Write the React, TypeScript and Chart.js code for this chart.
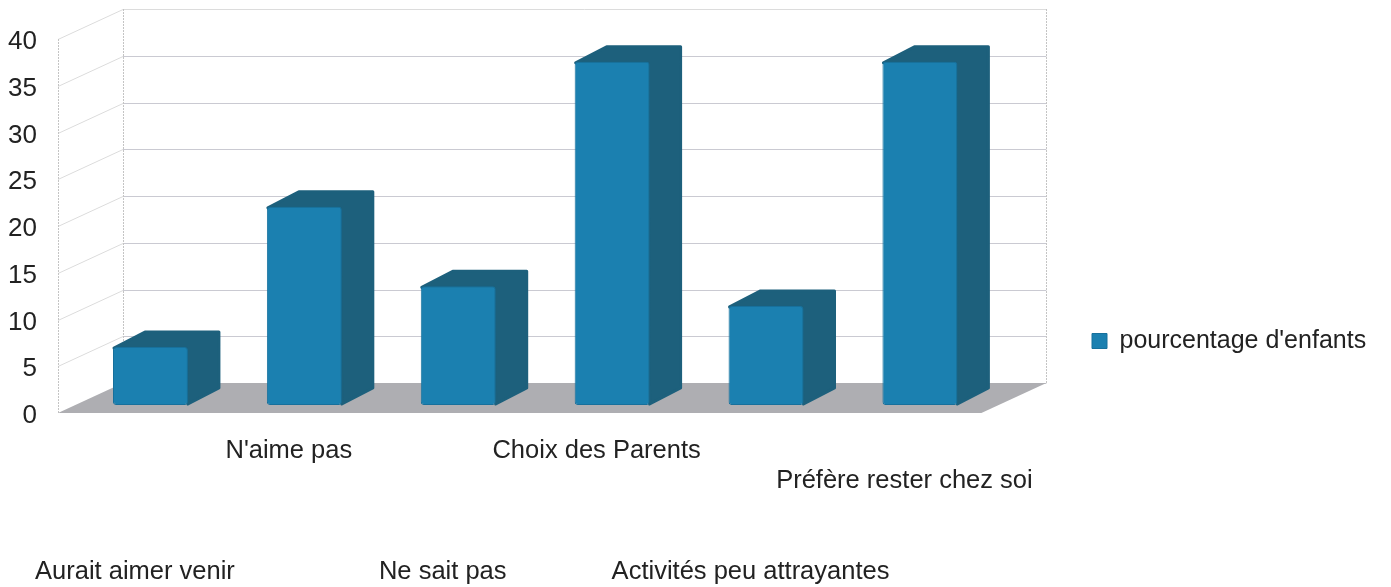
import React, { useEffect, useRef } from "react";
import { Chart, registerables } from "chart.js";

Chart.register(...registerables);

const categories: string[][] = [
  ["", "", "", "", "Aurait aimer venir"],
  ["N'aime pas"],
  ["", "", "", "", "Ne sait pas"],
  ["Choix des Parents"],
  ["", "", "", "", "Activités peu attrayantes"],
  ["", "Préfère rester chez soi"],
];
const seriesName = "pourcentage d'enfants";
const seriesValues = [6.2, 21.2, 12.7, 36.7, 10.6, 36.7];
const yTicks = [0, 5, 10, 15, 20, 25, 30, 35, 40];

const DEPTH_X = 65;
const DEPTH_Y = -30;
const BAR_DX = 15.5;
const BAR_DY = -8;
const BAR_DEPTH_X = 32;
const BAR_DEPTH_Y = -16;
const FONT = "'Liberation Sans', Arial, sans-serif";

const scene3d = {
  id: "scene3d",
  afterLayout(chart: any) {
    const lg = chart.legend;
    lg.left = 1082;
    lg.right = 1391;
    lg.top = 241;
    lg.bottom = 441;
  },
  beforeDatasetsDraw(chart: any) {
    const { ctx, chartArea: a, scales } = chart;
    const y = scales.y;
    ctx.save();
    ctx.lineWidth = 1;
    // Side wall and back wall grid
    yTicks.forEach((t) => {
      const py = Math.round(y.getPixelForValue(t)) + 0.5;
      if (t > 0) {
        ctx.strokeStyle = "#dcdcdc";
        ctx.beginPath();
        ctx.moveTo(a.left, py);
        ctx.lineTo(a.left + DEPTH_X, py + DEPTH_Y);
        ctx.stroke();
      }
      ctx.strokeStyle = t === 40 ? "#dcdcdc" : "#cacad2";
      ctx.beginPath();
      ctx.moveTo(a.left + DEPTH_X, py + DEPTH_Y);
      ctx.lineTo(a.right + DEPTH_X, py + DEPTH_Y);
      ctx.stroke();
    });
    // Vertical wall edges
    ctx.strokeStyle = "#c4c4c4";
    ctx.setLineDash([2, 1]);
    [a.left, a.left + DEPTH_X, a.right + DEPTH_X].forEach((x, i) => {
      const px = Math.round(x) + 0.5;
      ctx.beginPath();
      ctx.moveTo(px, a.top + (i === 0 ? 0 : DEPTH_Y));
      ctx.lineTo(px, a.bottom + (i === 0 ? 0 : DEPTH_Y));
      ctx.stroke();
    });
    ctx.setLineDash([]);
    // Floor
    ctx.fillStyle = "#aeaeb2";
    ctx.beginPath();
    ctx.moveTo(a.left, a.bottom);
    ctx.lineTo(a.left + DEPTH_X, a.bottom + DEPTH_Y);
    ctx.lineTo(a.right + DEPTH_X, a.bottom + DEPTH_Y);
    ctx.lineTo(a.right, a.bottom);
    ctx.closePath();
    ctx.fill();
    ctx.restore();
  },
  beforeDatasetDraw(chart: any, args: any) {
    const { ctx } = chart;
    ctx.save();
    ctx.translate(BAR_DX, BAR_DY);
    ctx.lineJoin = "round";
    ctx.lineWidth = 3;
    args.meta.data.forEach((bar: any) => {
      const { x, y, base, width } = bar.getProps(["x", "y", "base", "width"], true);
      const l = x - width / 2;
      const r = x + width / 2;
      ctx.fillStyle = "#1d607c";
      ctx.strokeStyle = "#1d607c";
      ctx.beginPath();
      ctx.moveTo(l + 1, y + 1);
      ctx.lineTo(l + BAR_DEPTH_X, y + BAR_DEPTH_Y + 1);
      ctx.lineTo(r + BAR_DEPTH_X - 1, y + BAR_DEPTH_Y + 1);
      ctx.lineTo(r + BAR_DEPTH_X - 1, base + BAR_DEPTH_Y - 1);
      ctx.lineTo(r, base - 1);
      ctx.lineTo(r - 2, y + 1);
      ctx.closePath();
      ctx.fill();
      ctx.stroke();
    });
  },
  afterDatasetDraw(chart: any) {
    chart.ctx.restore();
  },
};

export default function App() {
  const ref = useRef<HTMLCanvasElement>(null);
  useEffect(() => {
    const chart = new Chart(ref.current as HTMLCanvasElement, {
      type: "bar",
      data: {
        labels: categories,
        datasets: [
          {
            label: seriesName,
            data: seriesValues,
            backgroundColor: "#1b80b0",
            borderColor: "#17709c",
            borderWidth: 1,
            borderRadius: 3,
            borderSkipped: false,
            barPercentage: 0.487,
            categoryPercentage: 1,
            clip: false,
          } as any,
        ],
      },
      options: {
        responsive: false,
        animation: false,
        layout: { padding: { top: 39, right: 115.5, left: 0, bottom: 0 } },
        scales: {
          x: {
            afterFit(s: any) {
              s.height = 174;
            },
            grid: { display: false },
            border: { display: false },
            ticks: {
              autoSkip: false,
              maxRotation: 0,
              minRotation: 0,
              padding: 15,
              color: "#222222",
              font: { family: FONT, size: 25.5, lineHeight: 30.25 / 25.5 } as any,
            },
          },
          y: {
            min: 0,
            max: 40,
            afterFit(s: any) {
              s.width = 58;
            },
            grid: { display: false, drawTicks: false },
            border: { display: false },
            ticks: {
              stepSize: 5,
              padding: 21,
              labelOffset: 3,
              color: "#222222",
              font: { family: FONT, size: 26 },
            } as any,
          },
        },
        plugins: {
          legend: {
            position: "right",
            labels: {
              boxWidth: 15,
              boxHeight: 15,
              padding: 10,
              color: "#222222",
              font: { family: FONT, size: 25 },
            },
          },
          tooltip: { enabled: false },
        },
      },
      plugins: [scene3d as any],
    });
    return () => chart.destroy();
  }, []);
  return (
    <div style={{ position: "absolute", left: 0, top: 0, width: 1391, height: 587, background: "#ffffff" }}>
      <canvas ref={ref} width={1391} height={587} style={{ display: "block" }} />
    </div>
  );
}
